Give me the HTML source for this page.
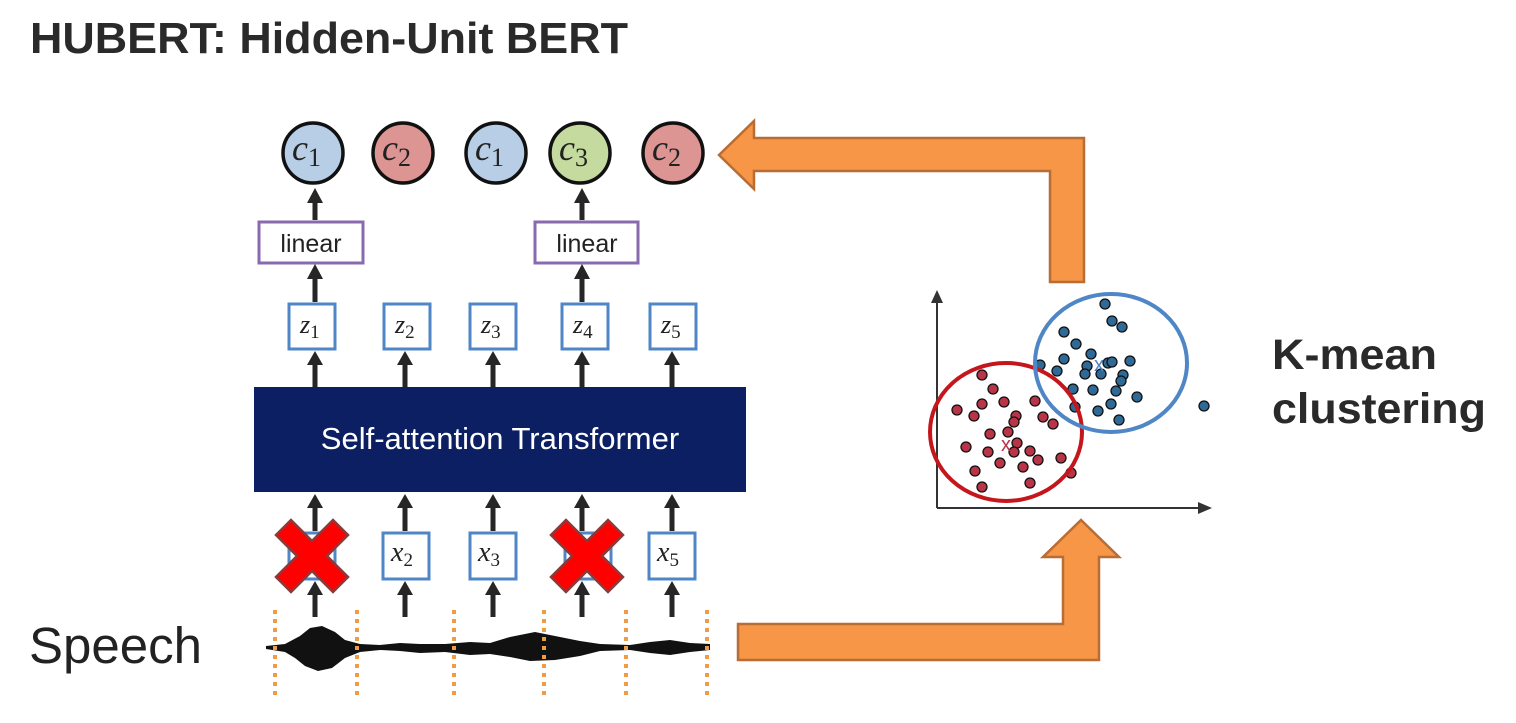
<!DOCTYPE html>
<html><head><meta charset="utf-8"><style>
body{margin:0;width:1516px;height:718px;background:#fff;overflow:hidden;font-family:"Liberation Sans",sans-serif}
</style></head><body>
<svg width="1516" height="718" viewBox="0 0 1516 718" xmlns="http://www.w3.org/2000/svg">
<text x="30" y="53" font-size="44" font-weight="bold" fill="#2a2a2a" textLength="598" lengthAdjust="spacingAndGlyphs">HUBERT: Hidden-Unit BERT</text>

<!-- circles -->
<g stroke="#111" stroke-width="3.5">
<circle cx="313" cy="153" r="30" fill="#b8cde6"/>
<circle cx="403" cy="153" r="30" fill="#dc9592"/>
<circle cx="496" cy="153" r="30" fill="#b8cde6"/>
<circle cx="580" cy="153" r="30" fill="#c5da9f"/>
<circle cx="673" cy="153" r="30" fill="#dc9592"/>
</g>
<g font-family="Liberation Serif,serif" font-size="36" fill="#222">
<text x="292" y="160"><tspan font-style="italic">c</tspan><tspan font-size="26" dy="6">1</tspan></text>
<text x="382" y="160"><tspan font-style="italic">c</tspan><tspan font-size="26" dy="6">2</tspan></text>
<text x="475" y="160"><tspan font-style="italic">c</tspan><tspan font-size="26" dy="6">1</tspan></text>
<text x="559" y="160"><tspan font-style="italic">c</tspan><tspan font-size="26" dy="6">3</tspan></text>
<text x="652" y="160"><tspan font-style="italic">c</tspan><tspan font-size="26" dy="6">2</tspan></text>
</g>

<!-- linear boxes -->
<rect x="259" y="222" width="104" height="41" fill="#fff" stroke="#8a6aae" stroke-width="3"/>
<rect x="535" y="222" width="103" height="41" fill="#fff" stroke="#8a6aae" stroke-width="3"/>
<text x="311" y="252" font-size="25" text-anchor="middle" fill="#222">linear</text>
<text x="587" y="252" font-size="25" text-anchor="middle" fill="#222">linear</text>

<!-- z boxes -->
<g fill="#fff" stroke="#4f86c6" stroke-width="3">
<rect x="289" y="304" width="46" height="45"/><rect x="384" y="304" width="46" height="45"/>
<rect x="470" y="304" width="46" height="45"/><rect x="562" y="304" width="46" height="45"/>
<rect x="650" y="304" width="46" height="45"/>
</g>
<g font-family="Liberation Serif,serif" font-size="26" fill="#222">
<text x="300" y="333"><tspan font-style="italic">z</tspan><tspan font-size="19" dy="5">1</tspan></text>
<text x="395" y="333"><tspan font-style="italic">z</tspan><tspan font-size="19" dy="5">2</tspan></text>
<text x="481" y="333"><tspan font-style="italic">z</tspan><tspan font-size="19" dy="5">3</tspan></text>
<text x="573" y="333"><tspan font-style="italic">z</tspan><tspan font-size="19" dy="5">4</tspan></text>
<text x="661" y="333"><tspan font-style="italic">z</tspan><tspan font-size="19" dy="5">5</tspan></text>
</g>

<!-- transformer -->
<rect x="254" y="387" width="492" height="105" fill="#0b1f62"/>
<text x="500" y="449" font-size="31" fill="#fff" text-anchor="middle">Self-attention Transformer</text>

<!-- x boxes -->
<g fill="#fff" stroke="#4f86c6" stroke-width="3">
<rect x="289" y="533" width="46" height="46"/><rect x="383" y="533" width="46" height="46"/>
<rect x="470" y="533" width="46" height="46"/><rect x="565" y="533" width="46" height="46"/>
<rect x="649" y="533" width="46" height="46"/>
</g>
<g font-family="Liberation Serif,serif" font-size="28" fill="#222">
<text x="391" y="561"><tspan font-style="italic">x</tspan><tspan font-size="19" dy="5">2</tspan></text>
<text x="478" y="561"><tspan font-style="italic">x</tspan><tspan font-size="19" dy="5">3</tspan></text>
<text x="657" y="561"><tspan font-style="italic">x</tspan><tspan font-size="19" dy="5">5</tspan></text>
</g>

<!-- black arrows -->
<g stroke="#262626" stroke-width="5">
<line x1="315" y1="220" x2="315" y2="200"/><line x1="582" y1="220" x2="582" y2="200"/>
<line x1="315" y1="302" x2="315" y2="276"/><line x1="582" y1="302" x2="582" y2="276"/>
<line x1="315" y1="387" x2="315" y2="362"/><line x1="405" y1="387" x2="405" y2="362"/>
<line x1="493" y1="387" x2="493" y2="362"/><line x1="582" y1="387" x2="582" y2="362"/>
<line x1="672" y1="387" x2="672" y2="362"/>
<line x1="315" y1="531" x2="315" y2="505"/><line x1="405" y1="531" x2="405" y2="505"/>
<line x1="493" y1="531" x2="493" y2="505"/><line x1="582" y1="531" x2="582" y2="505"/>
<line x1="672" y1="531" x2="672" y2="505"/>
<line x1="315" y1="617" x2="315" y2="592"/><line x1="405" y1="617" x2="405" y2="592"/>
<line x1="493" y1="617" x2="493" y2="592"/><line x1="582" y1="617" x2="582" y2="592"/>
<line x1="672" y1="617" x2="672" y2="592"/>
</g>
<g fill="#262626">
<path d="M307,203 L315,188 L323,203 Z"/><path d="M574,203 L582,188 L590,203 Z"/>
<path d="M307,279 L315,264 L323,279 Z"/><path d="M574,279 L582,264 L590,279 Z"/>
<path d="M307,365 L315,351 L323,365 Z"/><path d="M397,365 L405,351 L413,365 Z"/><path d="M485,365 L493,351 L501,365 Z"/><path d="M574,365 L582,351 L590,365 Z"/><path d="M664,365 L672,351 L680,365 Z"/>
<path d="M307,508 L315,494 L323,508 Z"/><path d="M397,508 L405,494 L413,508 Z"/><path d="M485,508 L493,494 L501,508 Z"/><path d="M574,508 L582,494 L590,508 Z"/><path d="M664,508 L672,494 L680,508 Z"/>
<path d="M307,595 L315,581 L323,595 Z"/><path d="M397,595 L405,581 L413,595 Z"/><path d="M485,595 L493,581 L501,595 Z"/><path d="M574,595 L582,581 L590,595 Z"/><path d="M664,595 L672,581 L680,595 Z"/>
</g>

<!-- red crosses -->
<g fill="#ff0000" stroke="#8b3a3a" stroke-width="2.5">
<path transform="translate(312,556)" d="M-36,-21 L-21,-36 L0,-15 L21,-36 L36,-21 L15,0 L36,21 L21,36 L0,15 L-21,36 L-36,21 L-15,0 Z"/>
<path transform="translate(587,556)" d="M-36,-21 L-21,-36 L0,-15 L21,-36 L36,-21 L15,0 L36,21 L21,36 L0,15 L-21,36 L-36,21 L-15,0 Z"/>
</g>

<!-- waveform -->
<g fill="#111">
<path d="M266,646 L285,644 L300,636 L310,628 L322,626 L335,632 L345,640 L360,644 L380,645 L400,643 L420,644 L445,644 L470,642 L490,643 L510,637 L535,632 L555,636 L580,641 L600,644 L630,645 L650,642 L670,640 L690,643 L710,644 L710,650 L690,652 L670,655 L650,653 L630,650 L600,651 L580,656 L555,660 L530,661 L510,657 L490,654 L470,655 L445,652 L420,653 L400,651 L380,650 L360,652 L345,658 L332,668 L318,671 L305,666 L295,658 L285,652 L266,649 Z"/>
</g>
<g stroke="#f39a45" stroke-width="4" stroke-dasharray="4,5">
<line x1="275" y1="610" x2="275" y2="695"/><line x1="357" y1="610" x2="357" y2="695"/>
<line x1="454" y1="610" x2="454" y2="695"/><line x1="544" y1="610" x2="544" y2="695"/>
<line x1="626" y1="610" x2="626" y2="695"/><line x1="707" y1="610" x2="707" y2="695"/>
</g>
<text x="29" y="663" font-size="51" fill="#222">Speech</text>

<!-- orange arrows -->
<g fill="#f69646" stroke="#b86d34" stroke-width="2.5">
<path d="M719,155 L754,121 L754,138 L1084,138 L1084,282 L1050,282 L1050,171 L754,171 L754,189 Z"/>
<path d="M738,624 L1063,624 L1063,557 L1043,557 L1081,520 L1119,557 L1099,557 L1099,660 L738,660 Z"/>
</g>

<!-- scatter -->
<g stroke="#333" stroke-width="2" fill="#333">
<line x1="937" y1="508" x2="937" y2="300"/><path d="M931,303 L937,290 L943,303 Z" stroke="none"/>
<line x1="937" y1="508" x2="1200" y2="508"/><path d="M1198,502 L1212,508 L1198,514 Z" stroke="none"/>
</g>
<g stroke="#111" stroke-width="1.3" fill="#2e6a95">
<circle cx="1105" cy="304" r="5"/><circle cx="1112" cy="321" r="5"/><circle cx="1122" cy="327" r="5"/><circle cx="1064" cy="332" r="5"/><circle cx="1076" cy="344" r="5"/><circle cx="1091" cy="354" r="5"/><circle cx="1064" cy="359" r="5"/><circle cx="1040" cy="365" r="5"/><circle cx="1057" cy="371" r="5"/><circle cx="1087" cy="366" r="5"/><circle cx="1085" cy="374" r="5"/><circle cx="1101" cy="374" r="5"/><circle cx="1108" cy="363" r="5"/><circle cx="1112" cy="362" r="5"/><circle cx="1130" cy="361" r="5"/><circle cx="1123" cy="375" r="5"/><circle cx="1121" cy="381" r="5"/><circle cx="1073" cy="389" r="5"/><circle cx="1093" cy="390" r="5"/><circle cx="1116" cy="391" r="5"/><circle cx="1137" cy="397" r="5"/><circle cx="1075" cy="407" r="5"/><circle cx="1098" cy="411" r="5"/><circle cx="1111" cy="404" r="5"/><circle cx="1119" cy="420" r="5"/><circle cx="1204" cy="406" r="5"/>
</g>
<g stroke="#111" stroke-width="1.3" fill="#b83447">
<circle cx="982" cy="375" r="5"/><circle cx="993" cy="389" r="5"/><circle cx="982" cy="404" r="5"/><circle cx="1004" cy="402" r="5"/><circle cx="1035" cy="401" r="5"/><circle cx="957" cy="410" r="5"/><circle cx="974" cy="416" r="5"/><circle cx="1016" cy="416" r="5"/><circle cx="1014" cy="422" r="5"/><circle cx="1043" cy="417" r="5"/><circle cx="1053" cy="424" r="5"/><circle cx="990" cy="434" r="5"/><circle cx="1008" cy="432" r="5"/><circle cx="1017" cy="443" r="5"/><circle cx="966" cy="447" r="5"/><circle cx="988" cy="452" r="5"/><circle cx="1014" cy="452" r="5"/><circle cx="1030" cy="451" r="5"/><circle cx="1038" cy="460" r="5"/><circle cx="1000" cy="463" r="5"/><circle cx="1023" cy="467" r="5"/><circle cx="1061" cy="458" r="5"/><circle cx="1071" cy="473" r="5"/><circle cx="975" cy="471" r="5"/><circle cx="982" cy="487" r="5"/><circle cx="1030" cy="483" r="5"/>
</g>
<ellipse cx="1006" cy="432" rx="76" ry="69" fill="none" stroke="#c5161c" stroke-width="4"/>
<ellipse cx="1111" cy="363" rx="76" ry="69" fill="none" stroke="#4f86c6" stroke-width="4"/>
<text x="1099" y="371" font-size="20" fill="#4f86c6" text-anchor="middle">x</text>
<text x="1006" y="451" font-size="20" fill="#b83447" text-anchor="middle">x</text>

<text x="1272" y="369" font-size="43" font-weight="bold" fill="#2a2a2a" textLength="165" lengthAdjust="spacingAndGlyphs">K-mean</text>
<text x="1272" y="423" font-size="43" font-weight="bold" fill="#2a2a2a" textLength="214" lengthAdjust="spacingAndGlyphs">clustering</text>
</svg>
</body></html>
